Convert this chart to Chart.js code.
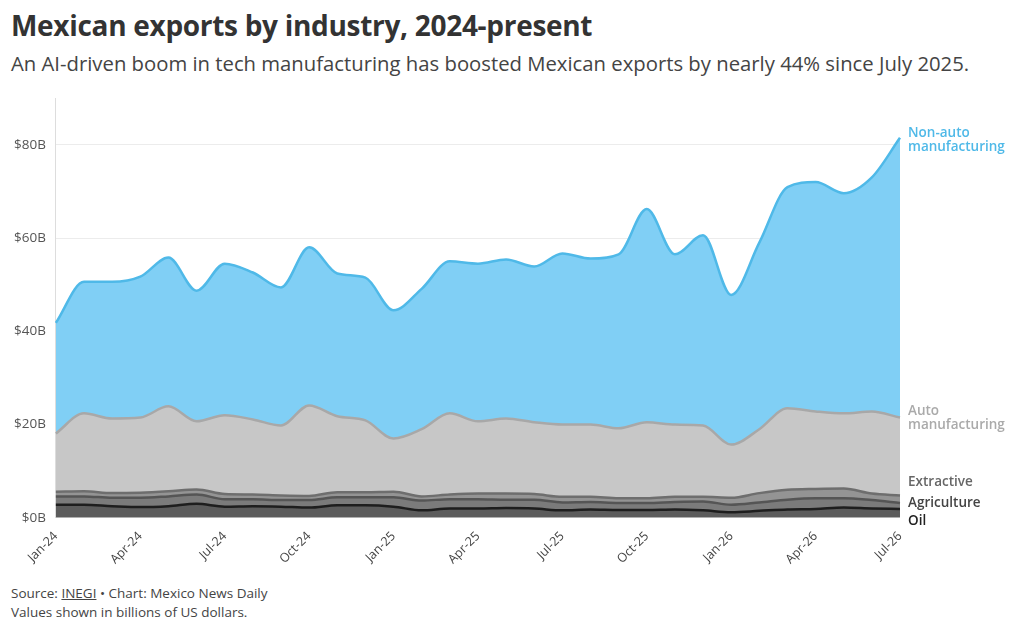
<!DOCTYPE html>
<html lang="en">
<head>
<meta charset="UTF-8" />
<title>Mexican exports by industry</title>
<script src="https://cdn.jsdelivr.net/npm/chart.js"></script>
<style>
  body { margin: 0; width: 1020px; height: 633px; background: #fff; font-family: 'Open Sans', sans-serif; position: relative; overflow: hidden; }
  h1 { position: absolute; left: 11px; top: 6px; margin: 0; font-size: 28px; font-weight: 700; color: #333; letter-spacing: -0.3px; }
  .sub { position: absolute; left: 11px; top: 49px; margin: 0; font-size: 20.3px; color: #444; }
  .chart { position: absolute; left: 0; top: 80px; width: 1020px; height: 490px; }
  .foot { position: absolute; left: 11px; top: 584px; font-size: 13.5px; color: #444; line-height: 19px; }
  .foot u { text-decoration: underline; }
</style>
</head>
<body>
<h1>Mexican exports by industry, 2024-present</h1>
<p class="sub">An AI-driven boom in tech manufacturing has boosted Mexican exports by nearly 44% since July 2025.</p>
<div class="chart"><canvas id="c"></canvas></div>
<div class="foot">Source: <u>INEGI</u> • Chart: Mexico News Daily<br>Values shown in billions of US dollars.</div>
<script>
  // months Jan-24 .. Jul-26
  const months = ['Jan-24','Feb-24','Mar-24','Apr-24','May-24','Jun-24','Jul-24','Aug-24','Sep-24','Oct-24','Nov-24','Dec-24',
    'Jan-25','Feb-25','Mar-25','Apr-25','May-25','Jun-25','Jul-25','Aug-25','Sep-25','Oct-25','Nov-25','Dec-25',
    'Jan-26','Feb-26','Mar-26','Apr-26','May-26','Jun-26','Jul-26'];

  // cumulative (stacked) top of each band, billions USD
  const oilTop = [2.8,2.8,2.5,2.3,2.5,3.0,2.4,2.5,2.4,2.2,2.7,2.7,2.4,1.6,2.0,2.0,2.1,2.0,1.6,1.8,1.7,1.7,1.8,1.6,1.2,1.5,1.8,1.9,2.2,2.0,1.9];
  const agricultureTop = [4.6,4.6,4.3,4.3,4.6,5.0,4.0,4.0,3.8,3.8,4.4,4.4,4.4,3.7,4.0,4.0,3.9,3.9,3.3,3.4,3.2,3.2,3.4,3.5,2.8,3.3,3.9,4.2,4.2,3.8,3.2];
  const extractiveTop = [5.6,5.7,5.3,5.4,5.7,6.1,5.1,5.0,4.8,4.7,5.5,5.5,5.6,4.6,5.0,5.2,5.2,5.1,4.5,4.5,4.2,4.2,4.5,4.5,4.3,5.3,6.0,6.2,6.3,5.2,4.8];
  const autoTop = [18.1,22.4,21.3,21.5,23.9,20.7,22.0,21.1,19.8,24.1,21.8,20.9,17.0,19.0,22.4,20.7,21.3,20.5,20.0,20.0,19.2,20.5,20.0,19.8,15.7,19.0,23.5,22.8,22.4,22.8,21.5];
  const totalTop = [41.8,50.6,50.6,51.7,55.8,48.7,54.5,52.6,49.4,58.0,52.4,51.5,44.5,49.1,55.0,54.5,55.4,53.9,56.7,55.6,56.5,66.2,56.5,60.6,47.8,59.0,70.9,72.0,69.6,73.0,81.5];
  const yTicks = [0, 20, 40, 60, 80];

  const series = [
    { label: 'Oil', data: oilTop, line: '#1e1e1e', fill: '#5c5c5c', fillTo: 'origin', text: '#222', dy: 5 },
    { label: 'Agriculture', data: agricultureTop, line: '#555', fill: '#7b7b7b', fillTo: '-1', text: '#444', dy: -7 },
    { label: 'Extractive', data: extractiveTop, line: '#6e6e6e', fill: '#949494', fillTo: '-1', text: '#666', dy: -20 },
    { label: 'Auto\nmanufacturing', data: autoTop, line: '#a8a8a8', fill: '#c7c7c7', fillTo: '-1', text: '#aaa', dy: -13 },
    { label: 'Non-auto\nmanufacturing', data: totalTop, line: '#4fb9e8', fill: '#80cff5', fillTo: '-1', text: '#4fb9e8', dy: -11 }
  ];

  const endLabels = {
    id: 'endLabels',
    afterDatasetsDraw(chart) {
      const { ctx, scales: { x, y } } = chart;
      ctx.save();
      ctx.font = '600 13.5px "Open Sans"';
      ctx.textBaseline = 'top';
      series.forEach(s => {
        const px = x.getPixelForValue(months.length - 1) + 8;
        const py = y.getPixelForValue(s.data[s.data.length - 1]) + s.dy;
        ctx.fillStyle = s.text;
        s.label.split('\n').forEach((t, i) => ctx.fillText(t, px, py + i * 14));
      });
      ctx.restore();
    }
  };

  new Chart(document.getElementById('c'), {
    type: 'line',
    data: {
      labels: months,
      datasets: series.map(s => ({
        label: s.label, data: s.data, borderColor: s.line, backgroundColor: s.fill,
        fill: s.fillTo, borderWidth: 2.5, pointRadius: 0, tension: 0.4, cubicInterpolationMode: 'monotone'
      }))
    },
    options: {
      responsive: true, maintainAspectRatio: false, animation: false,
      layout: { padding: { left: 4, right: 120, top: 8, bottom: 0 } },
      plugins: { legend: { display: false }, tooltip: { enabled: false } },
      scales: {
        x: {
          grid: { display: false },
          border: { display: false },
          ticks: {
            autoSkip: false, maxRotation: 45, minRotation: 45, color: '#444',
            font: { family: 'Open Sans', size: 12.5 },
            callback: (v, i) => (i % 3 === 0 ? months[i] : '')
          }
        },
        y: {
          min: 0, max: 90,
          afterBuildTicks: axis => { axis.ticks = yTicks.map(v => ({ value: v })); },
          grid: { color: '#ececec', drawTicks: false },
          border: { display: true, color: '#ddd' },
          ticks: { color: '#555', padding: 10, font: { family: 'Open Sans', size: 13.5 }, callback: v => '$' + v + 'B' }
        }
      }
    },
    plugins: [endLabels]
  });
</script>
</body>
</html>
